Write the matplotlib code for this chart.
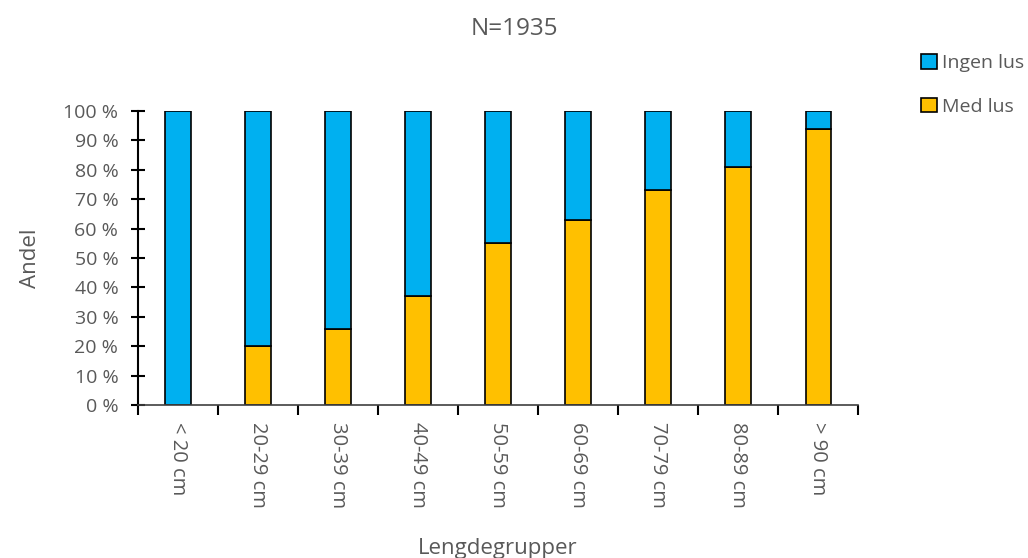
import numpy as np
import matplotlib.pyplot as plt
from matplotlib.ticker import FuncFormatter

plt.rcParams['font.family'] = ['Open Sans', 'DejaVu Sans']

# data
grupper = ["< 20 cm", "20-29 cm", "30-39 cm", "40-49 cm", "50-59 cm",
           "60-69 cm", "70-79 cm", "80-89 cm", "> 90 cm"]
med_lus = [0, 20, 26, 37, 55, 63, 73, 81, 94]
ingen_lus = [100 - v for v in med_lus]

blue = "#00B0F0"
yellow = "#FFC000"
grey = "#595959"

fig = plt.figure(figsize=(10.28, 5.58), dpi=100)
ax = fig.add_axes([0.134, 0.274, 0.701, 0.527])

x = np.arange(len(grupper))
ax.bar(x, med_lus, width=0.32, color=yellow, edgecolor="black", linewidth=1.2,
       label="Med lus")
ax.bar(x, ingen_lus, bottom=med_lus, width=0.32, color=blue, edgecolor="black",
       linewidth=1.2, label="Ingen lus")

ax.set_xlim(-0.5, len(grupper) - 0.5)
ax.set_ylim(0, 100)
ax.set_yticks(range(0, 101, 10))
ax.yaxis.set_major_formatter(FuncFormatter(lambda v, p: f"{int(v)} %"))

ax.set_xticks(x)
ax.set_xticklabels(grupper, rotation=-90, fontsize=14.5, color=grey)
ax.tick_params(axis="x", length=0, pad=12)
ax.set_xticks(np.arange(-0.5, len(grupper)), minor=True)
ax.tick_params(axis="x", which="minor", length=7, width=1.5, direction="out")
ax.tick_params(axis="y", labelsize=14, labelcolor=grey, direction="inout",
               length=10, width=1.5, pad=9)

for s in ["top", "right"]:
    ax.spines[s].set_visible(False)
ax.spines["left"].set_linewidth(1.5)
ax.spines["bottom"].set_color("#404040")
ax.spines["bottom"].set_linewidth(1.2)

ax.set_ylabel("Andel", fontsize=16, color=grey, labelpad=16)
ax.set_xlabel("Lengdegrupper", fontsize=16, color=grey, labelpad=22)
fig.suptitle("N=1935", fontsize=17.5, color=grey, y=0.97)

h, l = ax.get_legend_handles_labels()
leg = fig.legend(h[::-1], l[::-1], loc="upper left", bbox_to_anchor=(0.896, 0.903),
                 frameon=False, fontsize=14, handlelength=0.8, handleheight=0.8,
                 handletextpad=0.25, labelspacing=1.3, labelcolor=grey,
                 borderpad=0, borderaxespad=0)

fig.savefig("out.png", dpi=100)
